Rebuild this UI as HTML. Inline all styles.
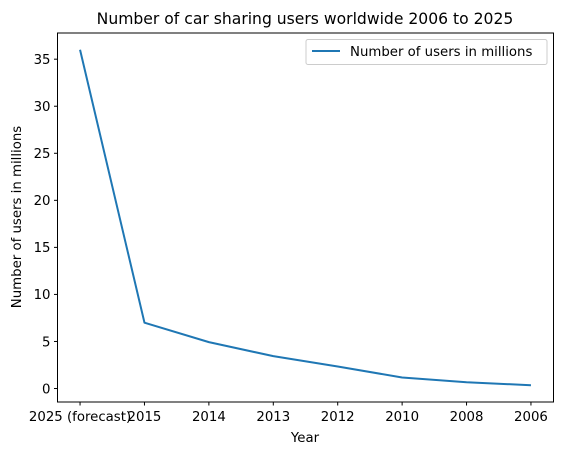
<!DOCTYPE html>
<html><head><meta charset="utf-8"><style>
body{margin:0;background:#fff}
svg text{font-family:"DejaVu Sans","Liberation Sans",sans-serif;fill:#000}
</style></head><body>
<svg id="c" width="562" height="455" viewBox="0 0 562 455">
<rect width="562" height="455" fill="#fff"/>
<text x="305" y="24" font-size="15.6" text-anchor="middle">Number of car sharing users worldwide 2006 to 2025</text>
<text x="305" y="442" font-size="13.3" text-anchor="middle">Year</text>
<text transform="translate(21,217) rotate(-90)" font-size="13.3" text-anchor="middle">Number of users in millions</text>
<g id="ticks"></g>
<polyline id="line" fill="none" stroke="#1f77b4" stroke-width="2" stroke-linejoin="round"/>
<rect x="57.5" y="33" width="496" height="369" fill="none" stroke="#000" stroke-width="1"/>
<g>
<rect x="306" y="39.5" width="241" height="25" rx="2" fill="#fff" stroke="#ccc"/>
<line x1="312" y1="51" x2="340" y2="51" stroke="#1f77b4" stroke-width="2"/>
<text x="350" y="56" font-size="13.3">Number of users in millions</text>
</g>
</svg>
<script>
const categories=["2025 (forecast)","2015","2014","2013","2012","2010","2008","2006"];
const users=[36,7,4.93,3.44,2.34,1.17,0.67,0.35];
const yTicks=[0,5,10,15,20,25,30,35];
const L=57.5,R=553.5,T=33,B=402;
const n=categories.length;
const xs=i=>L+(R-L)*(i+0.35)/(n-1+0.7);
const mn=Math.min(...users),mx=Math.max(...users),pad=(mx-mn)*0.05;
const y0=mn-pad,y1=mx+pad;
const ys=v=>B-(B-T)*(v-y0)/(y1-y0);
const ns="http://www.w3.org/2000/svg";
const g=document.getElementById('ticks');
function mk(t,a){const e=document.createElementNS(ns,t);for(const k in a)e.setAttribute(k,a[k]);g.appendChild(e);return e;}
yTicks.forEach(v=>{
 const y=ys(v);
 const l=mk('line',{x1:L-3.5,x2:L,y1:y,y2:y,stroke:'#000'});
 
 
 const t=mk('text',{x:L-7,y:y+4.8,'font-size':13.3,'text-anchor':'end'});
 t.textContent=v;
 
 
});
categories.forEach((c,i)=>{
 const x=xs(i);
 const l=mk('line',{x1:x,x2:x,y1:B,y2:B+3.5,stroke:'#000'});
 
 
 const t=mk('text',{x:x,y:B+19,'font-size':13.3,'text-anchor':'middle'});
 t.textContent=c;
 
 
});
document.getElementById('line').setAttribute('points',users.map((v,i)=>xs(i)+','+ys(v)).join(' '));
</script>
</body></html>
